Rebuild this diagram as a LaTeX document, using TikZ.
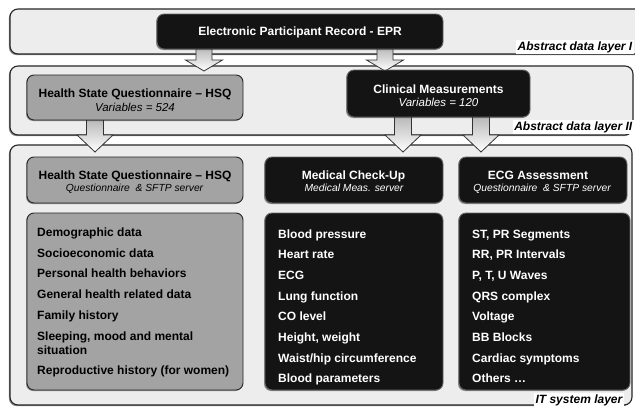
\documentclass[tikz,border=0pt]{standalone}
\usepackage{fontspec}
\setmainfont{Liberation Sans}
\usetikzlibrary{calc,shadows}
\pgfdeclarelayer{bg}
\pgfdeclarelayer{mid}
\pgfsetlayers{bg,mid,main}
% box from (x1,y1) to (x2,y2), pixel coordinates
\newcommand{\mkbox}[6]{\node[#2, anchor=north west, minimum width={#5pt-#3pt}, minimum height={#6pt-#4pt}, inner sep=0pt, outer sep=0pt] (#1) at (#3,#4) {};}
% block arrow: #1 source node, #2 x, #3 head start y, #4 tip y, #5 shaft half width, #6 head half width
\newcommand{\barrow}[6]{\path[blockarr] let \p1=(#1.south) in (#2pt-#5pt,\y1+3pt) -- (#2pt+#5pt,\y1+3pt) -- (#2pt+#5pt,-#3pt) -- (#2pt+#6pt,-#3pt) -- (#2pt,-#4pt) -- (#2pt-#6pt,-#3pt) -- (#2pt-#5pt,-#3pt) -- cycle;}
\begin{document}
\begin{tikzpicture}[x=1pt,y=-1pt,
  layerbox/.style={draw=black!85, line width=1.1pt, fill=black!7, rounded corners=8pt,
    drop shadow={shadow xshift=-1.2pt, shadow yshift=-1.2pt, opacity=0.45, fill=black}},
  graybox/.style={draw=black!85, line width=0.9pt, fill=black!36, rounded corners=7pt,
    drop shadow={shadow xshift=-1pt, shadow yshift=-1pt, opacity=0.4, fill=black}},
  blackbox/.style={draw=black!60, line width=0.9pt, fill=black!92, rounded corners=7pt,
    drop shadow={shadow xshift=-1pt, shadow yshift=-1pt, opacity=0.4, fill=black}},
  ttl/.style={font=\fontsize{12}{14}\selectfont\bfseries, inner sep=0pt, anchor=base},
  subt/.style={font=\fontsize{10.3}{12}\selectfont\itshape, inner sep=0pt, anchor=base},
  vsubt/.style={font=\fontsize{11.5}{13}\selectfont\itshape, inner sep=0pt, anchor=base},
  itm/.style={font=\fontsize{12}{14}\selectfont\bfseries, inner sep=0pt, anchor=base west},
  laylbl/.style={font=\fontsize{12}{14}\selectfont\bfseries\itshape, fill=white, inner sep=1.5pt, anchor=east},
  blockarr/.style={draw=black!80, line width=0.8pt, top color=black!30, bottom color=white, line join=miter}
]
\useasboundingbox (0,0) rectangle (635,407);

% ---- layers ----
\begin{pgfonlayer}{bg}
\fill[white] (0,0) rectangle (635,407);
\begin{scope}
\clip (0,0) rectangle (635,407);
\mkbox{L1}{layerbox}{10}{9}{648}{54}
\mkbox{L2}{layerbox}{10}{66}{633}{135}
\mkbox{L3}{layerbox}{10}{145}{632}{405}
\end{scope}
\end{pgfonlayer}

% ---- abstract data layer I ----
\mkbox{epr}{blackbox}{157}{14}{443}{49}
\node[ttl, text=white] (epr-t) at (300,35) {Electronic Participant Record - EPR};

% ---- abstract data layer II ----
\mkbox{hsq2}{graybox}{27}{75}{243}{120}
\node[ttl] (hsq2-t) at (135,97) {Health State Questionnaire – HSQ};
\node[vsubt] (hsq2-s) at (135,111) {Variables = 524};

\mkbox{clin}{blackbox}{347}{70}{530}{117}
\node[ttl, text=white] (clin-t) at (438.5,93) {Clinical Measurements};
\node[vsubt, text=white] (clin-s) at (438.5,106) {Variables = 120};

% ---- IT system layer headers ----
\mkbox{hsq3}{graybox}{27}{157}{243}{203}
\node[ttl] (hsq3-t) at (135,179) {Health State Questionnaire – HSQ};
\node[subt] (hsq3-s) at (134.5,191) {Questionnaire~ \& SFTP server};

\mkbox{med}{blackbox}{265}{157}{443}{203}
\node[ttl, text=white] (med-t) at (353.5,179) {Medical Check-Up};
\node[subt, text=white] (med-s) at (354,191) {Medical Meas. server};

\mkbox{ecg}{blackbox}{459}{157}{627}{203}
\node[ttl, text=white] (ecg-t) at (538,179) {ECG Assessment};
\node[subt, text=white] (ecg-s) at (542,191) {Questionnaire~ \& SFTP server};

% ---- lists ----
\mkbox{hsqL}{graybox}{27}{213}{243}{390}
\foreach \t/\yy [count=\i] in {{Demographic data}/236, {Socioeconomic data}/257,
  {Personal health behaviors}/277, {General health related data}/298,
  {Family history}/319, {Sleeping, mood and mental}/340, {situation}/354,
  {Reproductive history (for women)}/374}
  {\node[itm] (h\i) at (37,\yy) {\t};}

\mkbox{medL}{blackbox}{265}{213}{443}{390}
\foreach \t [count=\i] in {{Blood pressure}, {Heart rate}, {ECG}, {Lung function},
  {CO level}, {Height, weight}, {Waist/hip circumference}, {Blood parameters}}
  {\node[itm, text=white] (m\i) at (278,{238+20.7*(\i-1)}) {\t};}

\mkbox{ecgL}{blackbox}{459}{213}{630}{390}
\foreach \t [count=\i] in {{ST, PR Segments}, {RR, PR Intervals}, {P, T, U Waves},
  {QRS complex}, {Voltage}, {BB Blocks}, {Cardiac symptoms}, {Others \dots}}
  {\node[itm, text=white] (e\i) at (472,{238+20.7*(\i-1)}) {\t};}

% ---- layer labels ----
\node[laylbl] (lab1) at (634,47) {Abstract data layer I};
\node[laylbl] (lab2) at (634,127) {Abstract data layer II};
\node[laylbl] (lab3) at (624,400) {IT system layer};

% ---- block arrows ----
\begin{pgfonlayer}{mid}
\barrow{epr}{204}{60}{71}{8}{18.5}
\barrow{epr}{385}{60}{71}{8}{18.5}
\barrow{hsq2}{95}{135}{152}{8.5}{18}
\barrow{clin}{403}{135}{152}{8.5}{18}
\barrow{clin}{481}{135}{152}{8.5}{18}
\end{pgfonlayer}
\end{tikzpicture}
\end{document}
